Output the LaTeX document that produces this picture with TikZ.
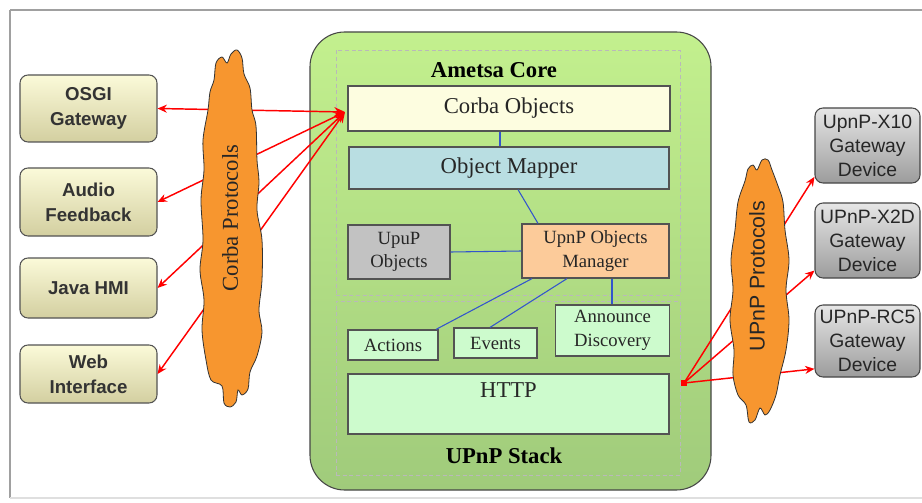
\documentclass[tikz,border=0pt]{standalone}
\usepackage{fontspec}
\setmainfont{Liberation Serif}
\setsansfont{Liberation Sans}
\usetikzlibrary{arrows.meta,calc}
\definecolor{lbtop}{HTML}{FBFAD9}
\definecolor{lbbot}{HTML}{D3CFA0}
\definecolor{rbtop}{HTML}{E6E6E6}
\definecolor{rbbot}{HTML}{9C9C9C}
\definecolor{gtop}{HTML}{C3F08E}
\definecolor{gbot}{HTML}{A0CB7B}
\definecolor{corbafill}{HTML}{FDFDE0}
\definecolor{mapperfill}{HTML}{B9DEE2}
\definecolor{grayfill}{HTML}{C2C2C2}
\definecolor{mgrfill}{HTML}{FCCB9A}
\definecolor{stackfill}{HTML}{CDFBCD}
\definecolor{cloudfill}{HTML}{F7962F}
\definecolor{linkblue}{HTML}{3355CC}
\definecolor{frame}{HTML}{A0A0A0}
\begin{document}
\begin{tikzpicture}[x=0.75pt,y=-0.75pt,
  sz/.style 2 args={minimum width=#1*0.75pt, minimum height=#2*0.75pt},
  leftbox/.style={draw=gray!65!black, line width=0.8pt, rounded corners=6pt,
    top color=lbtop, bottom color=lbbot, inner sep=0pt, align=center,
    font=\sffamily\bfseries\fontsize{14}{18.5}\selectfont, text=black!80},
  rightbox/.style={draw=gray!55!black, line width=0.8pt, rounded corners=6pt,
    top color=rbtop, bottom color=rbbot, inner sep=0pt, align=center,
    font=\sffamily\fontsize{14.5}{18}\selectfont, text=black!85},
  inbox/.style={draw=gray!65!black, line width=0.9pt, inner sep=0pt, align=center,
    font=\fontsize{17}{20}\selectfont, text=black!85},
  smallbox/.style={inbox, font=\fontsize{14}{17.5}\selectfont},
  panel/.style={draw=gray!55, densely dashed, line width=0.5pt, inner sep=0pt},
  blueline/.style={draw=linkblue, line width=0.8pt},
  redarrow/.style={draw=red, line width=1.1pt, -{Stealth[length=7pt,width=6pt]}},
  redboth/.style={draw=red, line width=1.1pt, {Stealth[length=8pt,width=7pt]}-{Stealth[length=7pt,width=6pt]}},
  cloudshape/.style={fill=cloudfill, draw=black!80, line width=0.6pt}
]
\useasboundingbox (0,0) rectangle (922,503);
\fill[white] (0,0) rectangle (922,503);
\draw[frame, line width=1.5pt] (10,10) -- (930,10);
\draw[frame, line width=1.5pt] (10,10) -- (10,498);
\draw[gray!25, line width=0.8pt] (10,498) -- (930,498);

% main green container
\node[sz={401}{458}, draw=gray!55!black, line width=0.8pt, rounded corners=26pt,
  top color=gtop, bottom color=gbot, inner sep=0pt] (main) at (510.5,261) {};
\node[panel, sz={344}{245}] (corepanel) at (508,172.5) {};
\node[panel, sz={344}{174}] (stackpanel) at (508,388) {};

\node[font=\bfseries\fontsize{17}{20}\selectfont] (coretitle) at (494,70) {Ametsa Core};
\node[font=\bfseries\fontsize{17}{20}\selectfont] (stacktitle) at (504,456) {UPnP Stack};

% inner boxes
\node[inbox, fill=corbafill, sz={322}{45}] (corba) at (509,108.5) {Corba Objects};
\node[inbox, fill=mapperfill, sz={320}{42}] (mapper) at (509,168) {Object Mapper};
\node[smallbox, fill=grayfill, sz={102}{54}] (upnpobj) at (399,252) {\raisebox{-2pt}{\parbox{2cm}{\centering UpuP\\Objects}}};
\node[smallbox, fill=mgrfill, sz={147}{54}] (manager) at (595.5,251) {\raisebox{-3pt}{\parbox{3cm}{\centering UpnP Objects\\Manager}}};
\node[smallbox, fill=stackfill, sz={90}{30}] (actions) at (393,345) {\raisebox{-3pt}{Actions}};
\node[smallbox, fill=stackfill, sz={83}{30}] (events) at (495.5,343) {Events};
\node[smallbox, fill=stackfill, sz={113}{51}] (announce) at (612.5,330.5) {\raisebox{-4pt}{\parbox{3cm}{\centering Announce\\Discovery}}};
\node[inbox, fill=stackfill, sz={321}{60},
  label={[anchor=north, inner sep=0pt, yshift=-7pt, font=\fontsize{17}{20}\selectfont, text=black!85]north:HTTP}] (http) at (508.5,404) {};

% blue links
\draw[blueline] (corba.south -| 500,0) -- (mapper.north -| 500,0);
\draw[blueline] (mapper.south -| 518,0) -- (manager.north -| 538,0);
\draw[blueline] (upnpobj.east) -- (manager.west);
\draw[blueline] (manager.south -| 532,0) -- (actions.north -| 436,0);
\draw[blueline] (manager.south -| 567,0) -- (events.north -| 490,0);
\draw[blueline] (manager.south -| 612,0) -- (announce.north -| 612,0);

% left boxes
\node[leftbox, sz={137}{67}] (osgi) at (88.5,108.5) {OSGI\\Gateway};
\node[leftbox, sz={137}{68}] (audio) at (88.5,202) {Audio\\Feedback};
\node[leftbox, sz={137}{60}] (java) at (88.5,288) {Java HMI};
\node[leftbox, sz={137}{58}] (web) at (88.5,374) {Web\\Interface};

% right boxes
\node[rightbox, sz={105}{75}] (x10) at (867.5,145.5) {UpnP-X10\\Gateway\\Device};
\node[rightbox, sz={105}{75}] (x2d) at (867.5,240.5) {UPnP-X2D\\Gateway\\Device};
\node[rightbox, sz={105}{72}] (rc5) at (867.5,341) {UPnP-RC5\\Gateway\\Device};

% red arrows (left)
\coordinate (hubL) at (345,112);
\draw[redboth] (hubL) -- (osgi.east);
\draw[redboth] (hubL) -- (audio.east);
\draw[redboth] (hubL) -- (java.east);
\draw[redboth] (hubL) -- (web.east);

% red arrows (right)
\node[fill=red, inner sep=0pt, minimum size=5pt] (hubR) at (684,383) {};
\draw[redarrow] (hubR.center) -- ([yshift=5pt]x10.south west);
\draw[redarrow] (hubR.center) -- ([yshift=6pt]x2d.south west);
\draw[redarrow] (hubR.center) -- ([yshift=6.5pt]rc5.south west);

% clouds
\draw[cloudshape] plot[smooth cycle, tension=0.55] coordinates {
 (214,80) (216,63) (222,57) (227,63) (231,54) (237,50) (242,58) (244,74) (250,88)
 (252,110) (256,126) (257,160) (259,182) (257,210) (262,240) (262,280) (259,310)
 (262,332) (257,356) (250,372) (248,389) (242,395) (238,390) (236,402) (230,407)
 (224,403) (222,386) (211,380) (206,360) (202,330) (204,300) (200,270) (203,240)
 (201,200) (204,170) (203,140) (208,110) (210,92)};
\node[rotate=90, font=\fontsize{17}{20}\selectfont, text=black!85] (corbaproto) at (230,218) {Corba Protocols};

\draw[cloudshape] plot[smooth cycle, tension=0.55] coordinates {
 (745,181) (748,169) (753,165) (757,170) (762,160) (768,160) (772,170) (778,186)
 (783,202) (785,230) (789,260) (786,290) (789,320) (786,350) (780,375) (776,395)
 (770,410) (765,415) (760,408) (755,420) (749,422) (746,405) (738,395) (733,375)
 (734,350) (730,320) (733,290) (731,260) (735,230) (738,202)};
\node[rotate=90, font=\sffamily\fontsize{16}{19}\selectfont, text=black!85] (upnpproto) at (757,276) {UPnP Protocols};
\end{tikzpicture}
\end{document}
